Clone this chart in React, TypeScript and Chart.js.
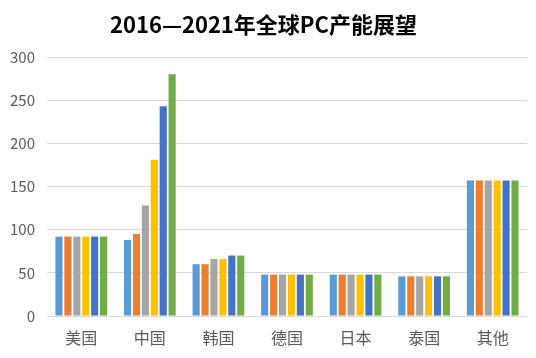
import React, { useEffect, useRef } from "react";
import { Chart, registerables } from "chart.js";

Chart.register(...registerables);

const categories = ["美国", "中国", "韩国", "德国", "日本", "泰国", "其他"];
const seriesNames = ["2016", "2017", "2018", "2019", "2020", "2021"];
const s2016 = [92, 88, 60, 48, 48, 46, 157];
const s2017 = [92, 95, 60, 48, 48, 46, 157];
const s2018 = [92, 128, 66, 48, 48, 46, 157];
const s2019 = [92, 181, 66, 48, 48, 46, 157];
const s2020 = [92, 243, 70, 48, 48, 46, 157];
const s2021 = [92, 280, 70, 48, 48, 46, 157];
const colors = ["#5B9BD5", "#ED7D31", "#A5A5A5", "#FFC000", "#4472C4", "#70AD47"];
const titleText = "2016—2021年全球PC产能展望";

export default function App() {
  const ref = useRef<HTMLCanvasElement>(null);
  useEffect(() => {
    const all = [s2016, s2017, s2018, s2019, s2020, s2021];
    const font = "'Noto Sans CJK SC', 'Noto Sans', sans-serif";
    const chart = new Chart(ref.current!, {
      type: "bar",
      data: {
        labels: categories,
        datasets: all.map((d, i) => ({
          label: seriesNames[i],
          data: d,
          backgroundColor: colors[i],
          borderWidth: 0,
          barPercentage: 0.8,
          categoryPercentage: 0.78,
        })),
      },
      options: {
        animation: false,
        responsive: false,
        maintainAspectRatio: false,
        layout: { padding: { left: 0, right: 9, top: 0, bottom: 0 } },
        plugins: {
          legend: { display: false },
          tooltip: { enabled: false },
          title: {
            display: true,
            text: titleText,
            color: "#000000",
            font: { family: font, size: 22, weight: "bold", lineHeight: 1.2 },
            padding: { top: 11, bottom: 19.6 },
          },
        },
        scales: {
          x: {
            grid: { display: false, drawTicks: false },
            border: { display: false },
            ticks: { color: "#595959", font: { family: font, size: 16 }, padding: 12, maxRotation: 0 },
            afterFit: (s: any) => { s.height = 42; },
          },
          y: {
            min: 0,
            max: 300,
            grid: { color: "#D9D9D9", lineWidth: 1, drawTicks: false },
            border: { display: false },
            ticks: { stepSize: 50, color: "#595959", font: { family: font, size: 15 }, padding: 12 },
            afterFit: (s: any) => { s.width = 47; },
          },
        },
      },
    });
    return () => chart.destroy();
  }, []);
  return (
    <div style={{ position: "fixed", left: 0, top: 0, width: 536, height: 358, background: "#fff" }}>
      <canvas ref={ref} width={536} height={358} />
    </div>
  );
}
